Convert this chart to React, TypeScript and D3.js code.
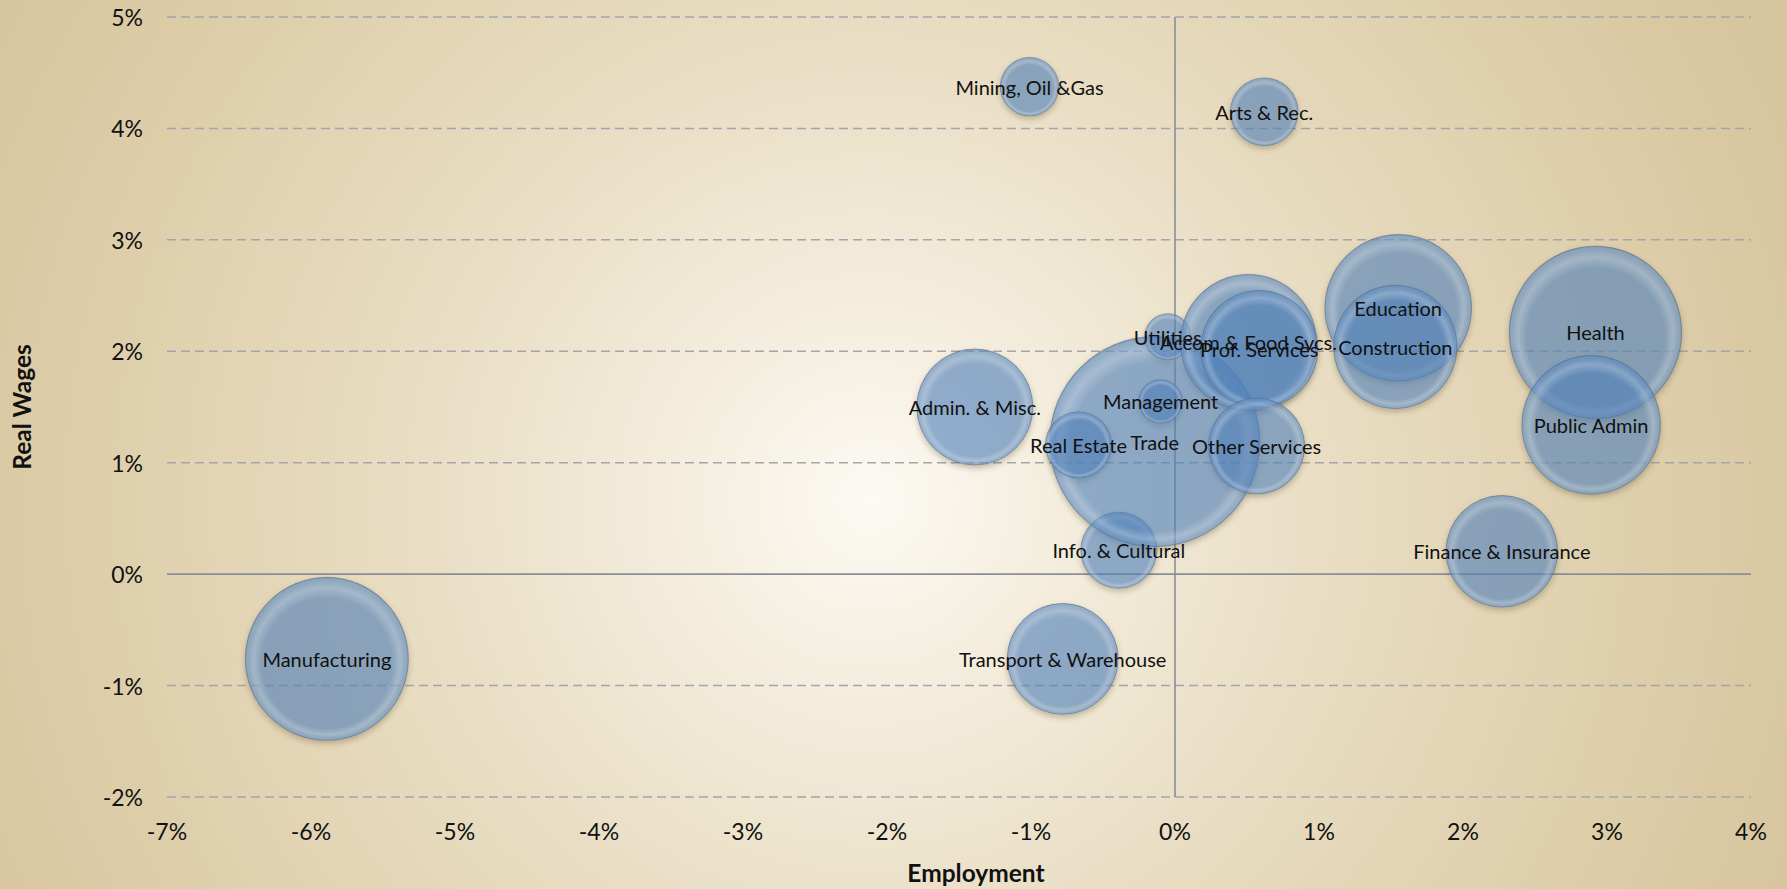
import React, { useRef, useEffect } from 'react';
import * as d3 from 'd3';

// industry bubbles: % change in employment (x), % change in real wages (y), size = employment
const industries = [
  'Manufacturing', 'Transport & Warehouse', 'Info. & Cultural', 'Finance & Insurance',
  'Admin. & Misc.', 'Mining, Oil &Gas', 'Arts & Rec.', 'Trade', 'Real Estate',
  'Management', 'Utilities', 'Accom & Food Svcs.', 'Prof. Services', 'Other Services',
  'Education', 'Construction', 'Health', 'Public Admin',
];
const employment = [-5.89, -0.78, -0.39, 2.27, -1.39, -1.01, 0.62, -0.14, -0.67, -0.1, -0.05, 0.51, 0.585, 0.567, 1.55, 1.53, 2.92, 2.89];
const realWages = [-0.76, -0.76, 0.215, 0.205, 1.5, 4.375, 4.15, 1.19, 1.16, 1.55, 2.13, 2.08, 2.02, 1.15, 2.39, 2.04, 2.17, 1.34];
const workers = [1627, 752, 354, 763, 824, 209, 280, 2700, 267, 115, 130, 1132, 841, 564, 1316, 932, 1820, 1176];

const xTicks = [-7, -6, -5, -4, -3, -2, -1, 0, 1, 2, 3, 4];
const yTicks = [-2, -1, 0, 1, 2, 3, 4, 5];

const WIDTH = 1787;
const HEIGHT = 889;
const FONT = 'Lato, "Open Sans", sans-serif';

export default function App() {
  const ref = useRef<SVGSVGElement | null>(null);

  useEffect(() => {
    if (!ref.current) return;
    const svg = d3.select(ref.current);
    svg.selectAll('*').remove();

    const x = d3.scaleLinear().domain([-7, 4]).range([167, 1751]);
    const y = d3.scaleLinear().domain([-2, 5]).range([797, 17]);
    const r = d3.scaleSqrt().domain([0, 2700]).range([0, 105]);

    const defs = svg.append('defs');

    // beige background, light in the middle
    const bg = defs.append('radialGradient')
      .attr('id', 'bg')
      .attr('gradientUnits', 'userSpaceOnUse')
      .attr('cx', 870).attr('cy', 500).attr('r', 1000);
    [[0, '#fcfaf4'], [0.15, '#f6f0e2'], [0.45, '#e9dec4'], [0.8, '#ddcda9'], [1, '#d6c59d']]
      .forEach(([o, c]) => bg.append('stop').attr('offset', o as number).attr('stop-color', c as string));

    // rim highlight, thicker at the top
    const rim = defs.append('radialGradient')
      .attr('id', 'rim')
      .attr('cx', 0.5).attr('cy', 0.5).attr('r', 0.5)
      .attr('fx', 0.5).attr('fy', 0.64);
    rim.append('stop').attr('offset', 0).attr('stop-color', '#fff').attr('stop-opacity', 0);
    rim.append('stop').attr('offset', 0.8).attr('stop-color', '#fff').attr('stop-opacity', 0);
    rim.append('stop').attr('offset', 0.9).attr('stop-color', '#fff').attr('stop-opacity', 0.24);
    rim.append('stop').attr('offset', 0.97).attr('stop-color', '#fff').attr('stop-opacity', 0.06);
    rim.append('stop').attr('offset', 1).attr('stop-color', '#3a5578').attr('stop-opacity', 0.3);

    defs.append('filter').attr('id', 'blur')
      .attr('x', -0.2).attr('y', -0.2).attr('width', 1.4).attr('height', 1.4)
      .append('feGaussianBlur').attr('stdDeviation', 3);

    const data = industries.map((name, i) => ({
      name, ex: employment[i], wg: realWages[i], size: workers[i],
    }));

    data.forEach((d, i) => {
      const m = defs.append('mask').attr('id', `m${i}`).attr('maskUnits', 'userSpaceOnUse')
        .attr('x', 0).attr('y', 0).attr('width', WIDTH).attr('height', HEIGHT);
      m.append('rect').attr('width', WIDTH).attr('height', HEIGHT).attr('fill', '#fff');
      m.append('circle').attr('cx', x(d.ex)).attr('cy', y(d.wg)).attr('r', r(d.size)).attr('fill', '#000');
    });

    svg.append('rect').attr('width', WIDTH).attr('height', HEIGHT).attr('fill', 'url(#bg)');

    // gridlines
    svg.append('g').selectAll('line')
      .data(yTicks.filter(t => t !== 0))
      .enter().append('line')
      .attr('x1', x(-7)).attr('x2', x(4))
      .attr('y1', d => y(d)).attr('y2', d => y(d))
      .attr('stroke', '#a3a5aa').attr('stroke-width', 1.5)
      .attr('stroke-dasharray', '9,5');

    // zero axes
    svg.append('line')
      .attr('x1', x(-7)).attr('x2', x(4)).attr('y1', y(0)).attr('y2', y(0))
      .attr('stroke', '#8a8e96').attr('stroke-width', 1.6);
    svg.append('line')
      .attr('x1', x(0)).attr('x2', x(0)).attr('y1', y(-2)).attr('y2', y(5))
      .attr('stroke', '#8a8e96').attr('stroke-width', 1.6);

    // tick labels
    svg.append('g').selectAll('text')
      .data(yTicks)
      .enter().append('text')
      .attr('x', 143).attr('y', d => y(d))
      .attr('text-anchor', 'end').attr('dominant-baseline', 'central')
      .style('font-family', FONT).style('font-size', '23px').attr('fill', '#111')
      .text(d => `${d}%`);
    svg.append('g').selectAll('text')
      .data(xTicks)
      .enter().append('text')
      .attr('x', d => x(d)).attr('y', 831)
      .attr('text-anchor', 'middle').attr('dominant-baseline', 'central')
      .style('font-family', FONT).style('font-size', '23px').attr('fill', '#111')
      .text(d => `${d}%`);

    // axis titles
    svg.append('text')
      .attr('x', 976).attr('y', 882)
      .attr('text-anchor', 'middle')
      .style('font-family', FONT).style('font-size', '24.5px').style('font-weight', 'bold')
      .attr('fill', '#111').text('Employment');
    svg.append('text')
      .attr('transform', 'translate(31,407) rotate(-90)')
      .attr('text-anchor', 'middle')
      .style('font-family', FONT).style('font-size', '24.5px').style('font-weight', 'bold')
      .attr('fill', '#111').text('Real Wages');

    // shadows (outside each bubble only)
    svg.append('g').selectAll('circle')
      .data(data)
      .enter().append('circle')
      .attr('cx', d => x(d.ex)).attr('cy', d => y(d.wg) + 3)
      .attr('r', d => r(d.size))
      .attr('fill', '#5a4826').attr('opacity', 0.35)
      .attr('filter', 'url(#blur)')
      .attr('mask', (_d, i) => `url(#m${i})`);

    const bubbles = svg.append('g').selectAll('g')
      .data(data)
      .enter().append('g');
    bubbles.append('circle')
      .attr('cx', d => x(d.ex)).attr('cy', d => y(d.wg))
      .attr('r', d => r(d.size))
      .attr('fill', '#4f7fb8').attr('fill-opacity', 0.62)
      .attr('stroke', '#56739a').attr('stroke-opacity', 0.5).attr('stroke-width', 1);
    bubbles.append('circle')
      .attr('cx', d => x(d.ex)).attr('cy', d => y(d.wg))
      .attr('r', d => r(d.size))
      .attr('fill', 'url(#rim)');

    // labels centred on the bubbles
    svg.append('g').selectAll('text')
      .data(data)
      .enter().append('text')
      .attr('x', d => x(d.ex)).attr('y', d => y(d.wg))
      .attr('text-anchor', 'middle').attr('dominant-baseline', 'central')
      .style('font-family', FONT).style('font-size', '20px').attr('fill', '#111')
      .text(d => d.name);
  }, []);

  return (
    <svg
      ref={ref}
      width={WIDTH}
      height={HEIGHT}
      style={{ position: 'absolute', left: 0, top: 0, display: 'block' }}
    />
  );
}
